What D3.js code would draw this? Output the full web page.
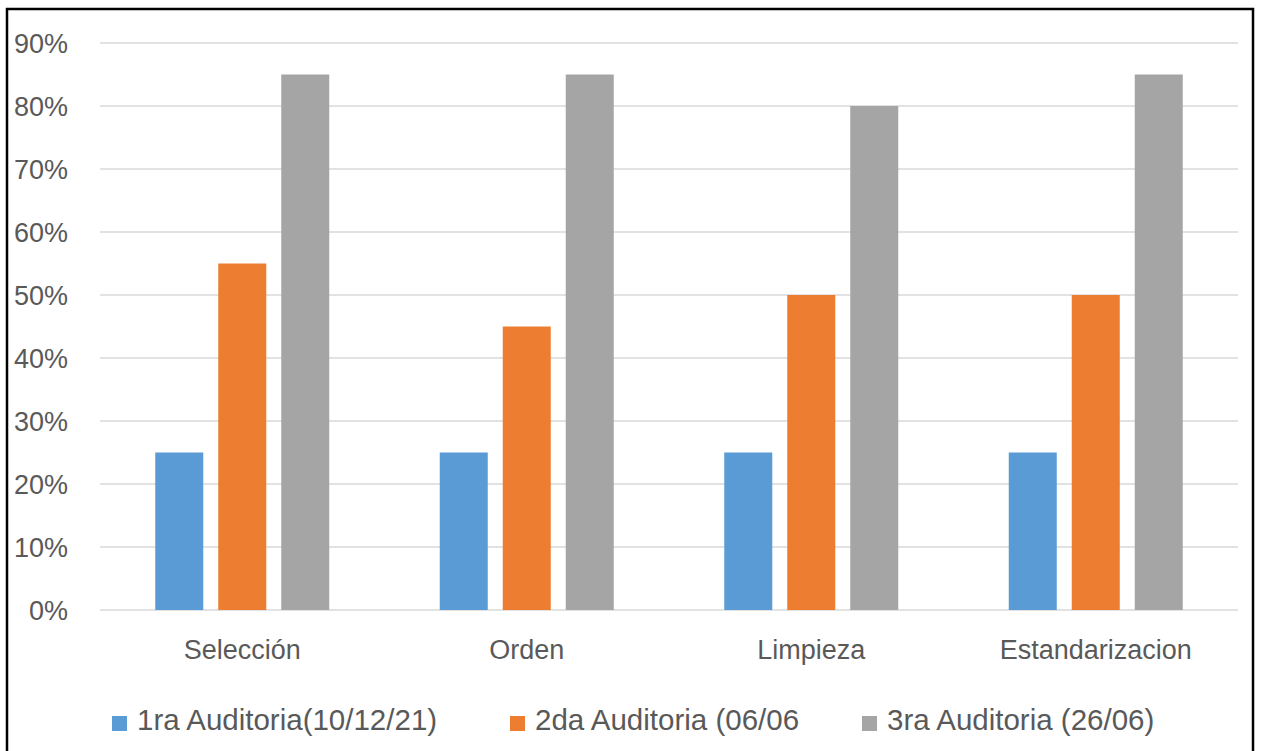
<!DOCTYPE html>
<html>
<head>
<meta charset="utf-8">
<script src="https://cdn.jsdelivr.net/npm/d3@7"></script>
<style>
  body { margin: 0; background: #fff; }
  text { font-family: "Liberation Sans", Arial, sans-serif; fill: #595959; }
</style>
</head>
<body>
<div id="chart"></div>
<script>
// datos
const categories = ["Selección", "Orden", "Limpieza", "Estandarizacion"]
const seriesNames = ["1ra Auditoria(10/12/21)", "2da Auditoria (06/06", "3ra Auditoria (26/06)"]
const auditoria1 = [0.25, 0.25, 0.25, 0.25]
const auditoria2 = [0.55, 0.45, 0.50, 0.50]
const auditoria3 = [0.85, 0.85, 0.80, 0.85]
const yTicks = [0, 0.1, 0.2, 0.3, 0.4, 0.5, 0.6, 0.7, 0.8, 0.9]
const colors = ["#5B9BD5", "#ED7D31", "#A5A5A5"]

const seriesValues = [auditoria1, auditoria2, auditoria3]

const W = 1265, H = 751
const margin = { top: 43, right: 27, bottom: 141, left: 100 }
const innerW = W - margin.left - margin.right
const innerH = H - margin.top - margin.bottom

const svg = d3.select("#chart").append("svg")
  .attr("width", W)
  .attr("height", H)

// marco
svg.append("rect")
  .attr("x", 7).attr("y", 9)
  .attr("width", 1246).attr("height", 760)
  .attr("fill", "none")
  .attr("stroke", "#000")
  .attr("stroke-width", 2.5)

const g = svg.append("g")
  .attr("transform", "translate(" + margin.left + "," + margin.top + ")")

const x0 = d3.scaleBand().domain(categories).range([0, innerW]).padding(0)
const groupW = 174
const x1 = d3.scaleBand().domain(d3.range(seriesNames.length))
  .range([-groupW / 2, groupW / 2]).paddingInner(0.238)
const y = d3.scaleLinear().domain([0, 0.9]).range([innerH, 0])

// líneas de cuadrícula
g.selectAll("line.grid").data(yTicks).enter().append("line")
  .attr("class", "grid")
  .attr("x1", 0).attr("x2", innerW)
  .attr("y1", d => y(d)).attr("y2", d => y(d))
  .attr("stroke", "#D9D9D9")
  .attr("stroke-width", 1.5)

// eje Y
const yAxis = d3.axisLeft(y).tickValues(yTicks).tickFormat(d3.format(".0%")).tickSize(0).tickPadding(32)
const yG = g.append("g").call(yAxis)
yG.select(".domain").remove()
yG.selectAll("text").style("font-size", "27px").attr("fill", "#595959").attr("dy", "0.35em")

// barras
const groups = g.selectAll("g.cat").data(categories).enter().append("g")
  .attr("class", "cat")
  .attr("transform", d => "translate(" + (x0(d) + x0.bandwidth() / 2) + ",0)")

groups.selectAll("rect").data((d, i) => seriesValues.map((s, k) => ({ k: k, v: s[i] })))
  .enter().append("rect")
  .attr("x", d => x1(d.k))
  .attr("width", x1.bandwidth())
  .attr("y", d => y(d.v))
  .attr("height", d => innerH - y(d.v))
  .attr("fill", d => colors[d.k])

// eje X
const xAxis = d3.axisBottom(x0).tickSize(0).tickPadding(30)
const xG = g.append("g").attr("transform", "translate(0," + innerH + ")").call(xAxis)
xG.select(".domain").remove()
xG.selectAll("text").style("font-size", "27px").attr("fill", "#595959")

// leyenda
const legendX = [112, 510, 862]
const legend = svg.selectAll("g.legend").data(seriesNames).enter().append("g")
  .attr("class", "legend")
  .attr("transform", (d, i) => "translate(" + legendX[i] + ",720)")
legend.append("rect")
  .attr("x", 0).attr("y", -4)
  .attr("width", 15).attr("height", 15)
  .attr("fill", (d, i) => colors[i])
legend.append("text")
  .attr("x", 25).attr("y", 0).attr("dy", "0.35em")
  .style("font-size", "29.5px")
  .text(d => d)
</script>
</body>
</html>
